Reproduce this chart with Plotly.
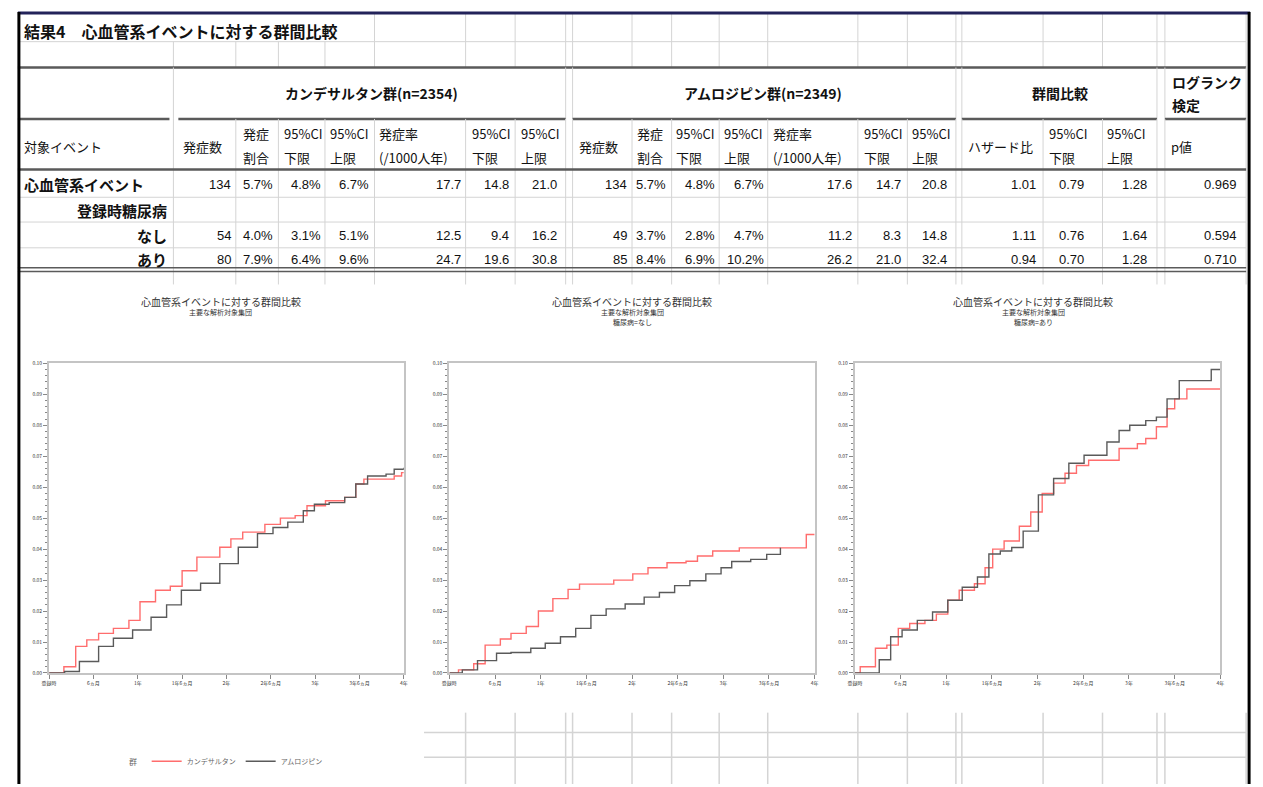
import plotly.graph_objects as go

W, H = 1263, 787

# ---------------- table data ----------------
report_title = "結果4　心血管系イベントに対する群間比較"
group_headers = ["カンデサルタン群(n=2354)", "アムロジピン群(n=2349)", "群間比較"]
logrank_header = ["ログランク", "検定"]
first_col_header = "対象イベント"
col_headers = [
    ("発症数", ""), ("発症", "割合"), ("95%CI", "下限"), ("95%CI", "上限"),
    ("発症率", "(/1000人年)"), ("95%CI", "下限"), ("95%CI", "上限"),
    ("発症数", ""), ("発症", "割合"), ("95%CI", "下限"), ("95%CI", "上限"),
    ("発症率", "(/1000人年)"), ("95%CI", "下限"), ("95%CI", "上限"),
    ("ハザード比", ""), ("95%CI", "下限"), ("95%CI", "上限"), ("p値", ""),
]
row_labels = ["心血管系イベント", "登録時糖尿病", "なし", "あり"]
row_all = ["134", "5.7%", "4.8%", "6.7%", "17.7", "14.8", "21.0",
           "134", "5.7%", "4.8%", "6.7%", "17.6", "14.7", "20.8",
           "1.01", "0.79", "1.28", "0.969"]
row_dm_none = ["54", "4.0%", "3.1%", "5.1%", "12.5", "9.4", "16.2",
               "49", "3.7%", "2.8%", "4.7%", "11.2", "8.3", "14.8",
               "1.11", "0.76", "1.64", "0.594"]
row_dm_yes = ["80", "7.9%", "6.4%", "9.6%", "24.7", "19.6", "30.8",
              "85", "8.4%", "6.9%", "10.2%", "26.2", "21.0", "32.4",
              "0.94", "0.70", "1.28", "0.710"]

# ---------------- chart data (months, cumulative incidence) ----------------
plot_title = "心血管系イベントに対する群間比較"
plot_subtitle = "主要な解析対象集団"
plot_strata = ["", "糖尿病=なし", "糖尿病=あり"]
group_names = ["カンデサルタン", "アムロジピン"]
legend_title = "群"
x_tick_vals = [0, 6, 12, 18, 24, 30, 36, 42, 48]
x_tick_text = ["登録時", "6ヵ月", "1年", "1年6ヵ月", "2年", "2年6ヵ月", "3年", "3年6ヵ月", "4年"]
y_tick_vals = [0.00, 0.01, 0.02, 0.03, 0.04, 0.05, 0.06, 0.07, 0.08, 0.09, 0.10]

t_all_c = [0, 2.0, 3.6, 5.1, 6.7, 8.7, 10.8, 12.3, 14.4, 16.4, 18.0, 20.0, 23.1, 24.6,
           26.2, 29.2, 31.3, 33.3, 34.9, 37.4, 40.0, 41.5, 42.6, 46.7, 47.7, 48]
v_all_c = [0, 0.002, 0.0086, 0.0107, 0.0128, 0.0144, 0.017, 0.023, 0.0267, 0.028, 0.033,
           0.0374, 0.0406, 0.0433, 0.0455, 0.048, 0.050, 0.0508, 0.054, 0.0556, 0.0567,
           0.061, 0.0626, 0.0636, 0.0647, 0.0647]
t_all_a = [0, 2.1, 4.1, 6.7, 8.7, 11.3, 13.8, 15.9, 17.9, 20.5, 23.1, 25.6, 28.2, 30.3,
           32.3, 34.4, 35.9, 37.9, 40.0, 41.5, 43.1, 45.6, 46.7, 48]
v_all_a = [0, 0.0005, 0.0037, 0.0086, 0.0112, 0.0139, 0.018, 0.022, 0.0267, 0.029, 0.0353,
           0.0406, 0.045, 0.047, 0.0487, 0.0524, 0.0545, 0.0550, 0.0567, 0.061, 0.0636,
           0.0642, 0.0658, 0.0663]

t_no_c = [0, 1.2, 3.2, 4.7, 6.7, 8.1, 10.1, 11.7, 13.6, 15.6, 17.1, 21.6, 24.1, 26.1,
          28.6, 31.1, 32.6, 34.6, 38.1, 46.9, 48]
v_no_c = [0, 0.001, 0.003, 0.009, 0.011, 0.0128, 0.015, 0.020, 0.024, 0.027, 0.0287,
          0.030, 0.032, 0.034, 0.0356, 0.0361, 0.0378, 0.0394, 0.0404, 0.0447, 0.0447]
t_no_a = [0, 1.7, 3.7, 6.2, 8.1, 10.7, 12.6, 14.6, 16.6, 18.6, 20.6, 23.1, 25.6, 27.6,
          29.6, 31.6, 33.7, 35.7, 37.1, 39.6, 41.7, 43.5]
v_no_a = [0, 0.001, 0.004, 0.0064, 0.0066, 0.008, 0.0096, 0.0117, 0.0144, 0.0186, 0.0207,
          0.0223, 0.0245, 0.026, 0.0282, 0.0298, 0.032, 0.034, 0.036, 0.0367, 0.0383, 0.0404]

t_dm_c = [0, 0.7, 2.7, 4.2, 5.7, 7.2, 9.2, 10.7, 12.2, 13.7, 15.7, 17.1, 18.1, 19.6, 21.6,
          23.1, 24.6, 26.1, 27.6, 29.1, 30.7, 34.7, 37.1, 38.2, 39.6, 41.0, 42.0, 43.6, 48]
v_dm_c = [0, 0.002, 0.008, 0.009, 0.0144, 0.016, 0.017, 0.019, 0.0235, 0.0267, 0.0288,
          0.034, 0.040, 0.0426, 0.0474, 0.052, 0.058, 0.0613, 0.0645, 0.067, 0.0687, 0.0725,
          0.074, 0.0757, 0.0795, 0.0853, 0.0885, 0.0917, 0.0917]
t_dm_a = [0, 1.7, 3.2, 4.7, 6.2, 8.2, 10.2, 12.2, 14.1, 16.1, 17.6, 19.1, 20.6, 22.1, 24.1,
          26.1, 28.1, 30.1, 33.1, 34.7, 36.1, 38.2, 39.6, 41.0, 42.6, 46.8, 48]
v_dm_a = [0, 0.0, 0.0043, 0.0117, 0.0139, 0.017, 0.0197, 0.0235, 0.0277, 0.031, 0.0384,
          0.0394, 0.0405, 0.0458, 0.0575, 0.0628, 0.0677, 0.0703, 0.0746, 0.0783, 0.08,
          0.0815, 0.0826, 0.0885, 0.0944, 0.098, 0.098]

series = [((t_all_c, v_all_c), (t_all_a, v_all_a)),
          ((t_no_c, v_no_c), (t_no_a, v_no_a)),
          ((t_dm_c, v_dm_c), (t_dm_a, v_dm_a))]

# ---------------- styling / layout helpers ----------------
JP = "Noto Sans CJK JP, sans-serif"
NUM = "Liberation Sans Narrow, Liberation Sans, Noto Sans CJK JP, sans-serif"
RED = "#ff6d6d"
GRAY = "#5a5a5a"
GRID = "#d4d4d4"
DARK = "#5a5a5a"


def X(px):
    return px / W


def Y(py):
    return 1 - py / H


shapes = []
annotations = []


def hline(x0, x1, y, color=GRID, width=1):
    shapes.append(dict(type="line", xref="paper", yref="paper", x0=X(x0), x1=X(x1),
                       y0=Y(y), y1=Y(y), line=dict(color=color, width=width)))


def vline(x, y0, y1, color=GRID, width=1):
    shapes.append(dict(type="line", xref="paper", yref="paper", x0=X(x), x1=X(x),
                       y0=Y(y0), y1=Y(y1), line=dict(color=color, width=width)))


def text(s, x, y, size=12, anchor="left", bold=False, family=JP, color="#111"):
    annotations.append(dict(text=f"<b>{s}</b>" if bold else s, x=X(x), y=Y(y),
                            xref="paper", yref="paper", xanchor=anchor, yanchor="middle",
                            showarrow=False, font=dict(size=size, family=family, color=color)))


col_edges = [167, 230, 273, 320, 370, 462, 512, 563, 570, 630, 670, 718, 767, 858, 908,
             957, 963, 1045, 1105, 1160, 1168, 1250]

# grid: title rows
hline(10, 1250, 38)
for e in col_edges:
    if e > 345:
        vline(e, 10, 38)
    vline(e, 38, 64)
hline(10, 1250, 64, DARK, 2.5)
# group header row
for e in [167, 563, 570, 957, 963, 1160, 1168, 1250]:
    vline(e, 64, 116)
for a, b in [(10, 163), (172, 563), (570, 957), (963, 1160), (1168, 1250)]:
    hline(a, b, 116, DARK, 2.5)
# column header + data rows
for e in col_edges:
    vline(e, 116, 283)
hline(10, 1250, 167, DARK, 2.5)
for yy in [195, 220, 246]:
    hline(10, 1250, yy)
hline(10, 1250, 266, DARK, 1.5)
hline(10, 1250, 270, DARK, 1.5)
# spreadsheet grid visible below the right-hand charts
for yy in [735, 760]:
    hline(420, 1250, yy, GRID, 1.5)
for e in col_edges:
    if e > 440:
        vline(e, 715, 787, GRID, 1.5)
# page frame
hline(10, 1254, 9, "#23235a", 3)
vline(11, 8, 787, "#000", 3)
vline(1253, 8, 787, "#000", 3)

# table text
text(report_title, 14, 27, 16, bold=True)
group_centers = [367, 762, 1062]
for s, cx in zip(group_headers, group_centers):
    text(s, cx, 90, 14, anchor="center", bold=True)
text(logrank_header[0], 1173, 79, 14, bold=True)
text(logrank_header[1], 1173, 102, 14, bold=True)
text(first_col_header, 14, 144, 13)
header_left = [175, 235, 277, 323, 373, 466, 516, 574, 633, 672, 721, 770, 862, 911,
               967, 1049, 1108, 1172]
for (top, bot), lx in zip(col_headers, header_left):
    if bot:
        text(top, lx, 131, 13)
        text(bot, lx, 155, 13)
    else:
        text(top, lx, 144, 13)
text(row_labels[0], 14, 182, 15, bold=True)
text(row_labels[1], 163, 208, 15, anchor="right", bold=True)
text(row_labels[2], 163, 234, 15, anchor="right", bold=True)
text(row_labels[3], 163, 258, 15, anchor="right", bold=True)
value_right = [227, 270, 318, 366, 459, 508, 556, 627, 666, 716, 765, 854, 904, 950,
               1040, 1088, 1152, 1243]
for vals, yy in [(row_all, 182), (row_dm_none, 234), (row_dm_yes, 258)]:
    for v, rx in zip(vals, value_right):
        text(v, rx, yy, 13, anchor="right", family=NUM)

# ---------------- charts ----------------
fig = go.Figure()
x_domains = [(41.5, 399.6), (445.6, 814.4), (855, 1224)]
title_centers = [215, 630, 1035]
y_dom = [Y(675), Y(362.5)]
for i, ((tc, vc), (ta, va)) in enumerate(series):
    xa = "x" if i == 0 else f"x{i+1}"
    ya = "y" if i == 0 else f"y{i+1}"
    for (tt, vv), name, col in [((tc, vc), group_names[0], RED), ((ta, va), group_names[1], GRAY)]:
        fig.add_trace(go.Scatter(x=tt, y=vv, mode="lines", name=name,
                                 line=dict(color=col, width=1.4, shape="hv"),
                                 xaxis=xa, yaxis=ya, legendgroup=name,
                                 showlegend=(i == 0), hoverinfo="skip"))
    axis_common = dict(showline=True, mirror=True, linecolor="#c4c4c4", linewidth=2,
                       showgrid=False, zeroline=False, ticks="outside", ticklen=4,
                       tickcolor="#888", tickfont=dict(size=5, color="#333", family=JP))
    fig.update_layout(**{
        ("xaxis" if i == 0 else f"xaxis{i+1}"): dict(
            domain=[X(x_domains[i][0]), X(x_domains[i][1])], range=[0, 48],
            tickvals=x_tick_vals, ticktext=x_tick_text, anchor=ya, **axis_common),
        ("yaxis" if i == 0 else f"yaxis{i+1}"): dict(
            domain=y_dom, range=[0, 0.10], tickvals=y_tick_vals, tickformat=".2f",
            anchor=xa, minor=dict(dtick=0.002, ticks="outside", ticklen=2, tickcolor="#888"),
            **axis_common),
    })
    cx = title_centers[i]
    text(plot_title, cx, 300, 10, anchor="center", color="#333")
    text(plot_subtitle, cx, 311, 7, anchor="center", color="#333")
    if plot_strata[i]:
        text(plot_strata[i], cx, 321, 7, anchor="center", color="#333")

# legend title placed on the same line as the legend entries
text(legend_title, 126, 764, 8, anchor="center", color="#666")

fig.update_layout(
    width=W, height=H, margin=dict(l=0, r=0, t=0, b=0),
    paper_bgcolor="white", plot_bgcolor="white",
    shapes=shapes, annotations=annotations,
    legend=dict(orientation="h", x=X(140), y=Y(764), xanchor="left", yanchor="middle",
                font=dict(size=7, color="#666", family=JP), itemwidth=30,
                bgcolor="rgba(0,0,0,0)"),
)

fig.write_html(
    "out.html",
    config={"displayModeBar": False},
    post_script="document.documentElement.style.margin='0';document.body.style.margin='0';"
                "document.body.style.padding='0';document.body.style.overflow='hidden';",
)
